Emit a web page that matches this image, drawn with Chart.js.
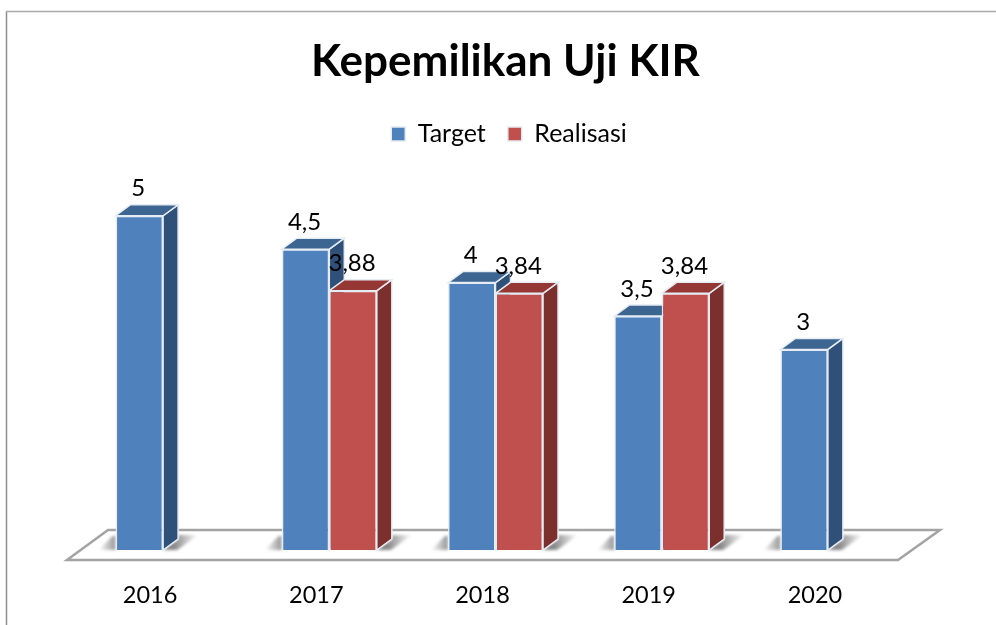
<!DOCTYPE html>
<html>
<head>
<meta charset="utf-8">
<title>Kepemilikan Uji KIR</title>
<script src="https://cdn.jsdelivr.net/npm/chart.js@4"></script>
<style>
html, body { margin: 0; padding: 0; background: #fff; overflow: hidden; }
canvas { display: block; }
</style>
</head>
<body>
<canvas id="chart" width="996" height="625"></canvas>
<script>
const years = ['2016', '2017', '2018', '2019', '2020'];
const target = [5, 4.5, 4, 3.5, 3];
const realisasi = [null, 3.88, 3.84, 3.84, null];

const depthX = 15, depthY = 11;
const edge = '#E6ECF3';
const sideColors = ['#2F5078', '#7B302E'];
const topColors = ['#3C6591', '#953735'];

function poly(ctx, pts, fill, stroke) {
    ctx.beginPath();
    pts.forEach((p, i) => i ? ctx.lineTo(p[0], p[1]) : ctx.moveTo(p[0], p[1]));
    ctx.closePath();
    if (fill) { ctx.fillStyle = fill; ctx.fill(); }
    if (stroke) { ctx.strokeStyle = stroke; ctx.stroke(); }
}

// frame, floor and the 3d faces go under the bars
const bar3d = {
    id: 'bar3d',
    afterLayout(chart) {
        chart.titleBlock.left += 10; chart.titleBlock.right += 10;
        chart.legend.left += 13.5; chart.legend.right += 13.5;
    },
    beforeDraw(chart) {
        const ctx = chart.ctx;
        ctx.save();
        ctx.lineWidth = 1.5;
        ctx.strokeStyle = '#8E8E8E';
        ctx.beginPath(); ctx.moveTo(6.5, 625); ctx.lineTo(6.5, 11); ctx.stroke();
        ctx.strokeStyle = '#ABABAB';
        ctx.beginPath(); ctx.moveTo(6, 11.5); ctx.lineTo(996, 11.5); ctx.stroke();
        ctx.restore();
    },
    beforeDatasetsDraw(chart) {
        const ctx = chart.ctx, a = chart.chartArea;
        ctx.save();
        ctx.lineWidth = 2.5;
        poly(ctx, [[a.left - 13, a.bottom + 10], [a.right - 13, a.bottom + 10], [a.right + 29, a.bottom - 20], [a.left + 28, a.bottom - 20]], '#fff', '#A3A3A3');

        // soft ground shadow either side of each group
        ctx.filter = 'blur(1.5px)';
        chart.data.datasets.forEach((ds, d) => {
            chart.getDatasetMeta(d).data.forEach((el, i) => {
                if (ds.data[i] == null) return;
                const half = el.width / 2, l = el.x - half, r = el.x + half, b = el.base;
                if (d === 0) {
                    const g = ctx.createLinearGradient(l - 17, 0, l, 0);
                    g.addColorStop(0, 'rgba(80,80,80,0)');
                    g.addColorStop(1, 'rgba(80,80,80,0.6)');
                    poly(ctx, [[l - 17, b], [l, b], [l, b - 14], [l - 3, b - 14]], g);
                }
                if (d === 1 || realisasi[i] == null) {
                    const g = ctx.createLinearGradient(r + 10, 0, r + depthX + 20, 0);
                    g.addColorStop(0, 'rgba(80,80,80,0.7)');
                    g.addColorStop(1, 'rgba(80,80,80,0)');
                    poly(ctx, [[r, b], [r + depthX, b - depthY], [r + depthX, b - 15], [r + depthX + 20, b - 15], [r + 14, b]], g);
                }
            });
        });
        ctx.filter = 'none';

        ctx.lineWidth = 1.5;
        chart.data.datasets.forEach((ds, d) => {
            chart.getDatasetMeta(d).data.forEach((el, i) => {
                if (ds.data[i] == null) return;
                const half = el.width / 2, l = el.x - half, r = el.x + half, t = el.y, b = el.base;
                poly(ctx, [[r, t], [r + depthX, t - depthY], [r + depthX, b - depthY], [r, b]], sideColors[d], edge);
                poly(ctx, [[l, t], [l + depthX, t - depthY], [r + depthX, t - depthY], [r, t]], topColors[d], edge);
            });
        });
        ctx.restore();
    },
    afterDatasetsDraw(chart) {
        const ctx = chart.ctx;
        ctx.save();
        ctx.fillStyle = '#000';
        ctx.font = '24px Lato';
        ctx.textAlign = 'center';
        ctx.textBaseline = 'middle';
        chart.data.datasets.forEach((ds, d) => {
            chart.getDatasetMeta(d).data.forEach((el, i) => {
                if (ds.data[i] == null) return;
                ctx.fillText(String(ds.data[i]).replace('.', ','), el.x - 1, el.y - 27);
            });
        });
        ctx.restore();
    }
};

new Chart(document.getElementById('chart'), {
    type: 'bar',
    data: {
        labels: years,
        datasets: [
            { label: 'Target', data: target, backgroundColor: '#4F81BD', borderColor: edge, borderWidth: 1.5 },
            { label: 'Realisasi', data: realisasi, backgroundColor: '#C0504D', borderColor: edge, borderWidth: 1.5 }
        ]
    },
    options: {
        responsive: false,
        animation: false,
        layout: { padding: { left: 80, right: 85, top: 0, bottom: 0 } },
        datasets: { bar: { categoryPercentage: 0.572, barPercentage: 1 } },
        scales: {
            x: {
                afterFit(scale) { scale.height = 75; },
                grid: { display: false, drawTicks: false },
                border: { display: false },
                ticks: { color: '#000', font: { family: 'Lato', size: 23.5 }, padding: 31, labelOffset: -13, maxRotation: 0 }
            },
            y: { display: false, min: 0, max: 5.888 }
        },
        plugins: {
            title: {
                display: true,
                text: 'Kepemilikan Uji KIR',
                color: '#000',
                font: { family: 'Lato', size: 44, weight: 'bold' },
                padding: { top: 35.6, bottom: 11 }
            },
            legend: {
                position: 'top',
                labels: { color: '#000', font: { family: 'Lato', size: 25 }, boxWidth: 14, boxHeight: 14, padding: 22 }
            },
            tooltip: { enabled: false }
        }
    },
    plugins: [bar3d]
});
</script>
</body>
</html>
